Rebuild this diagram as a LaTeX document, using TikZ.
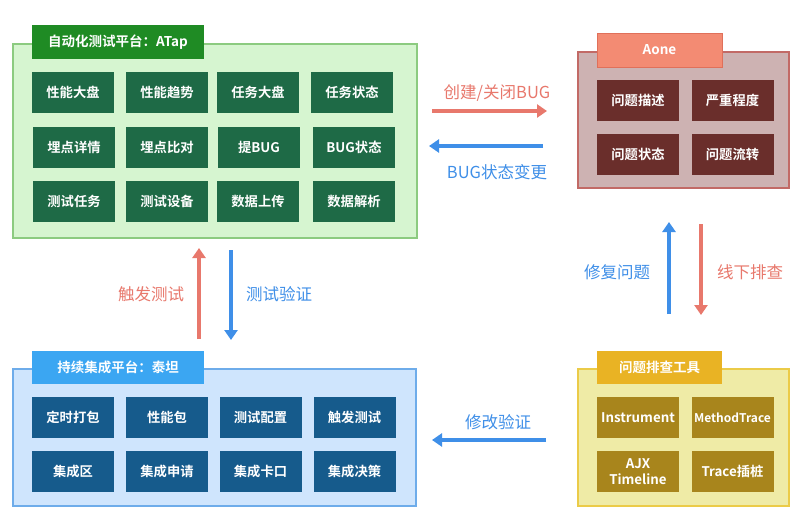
\documentclass[tikz,border=0pt]{standalone}
\usepackage{fontspec}
\setmainfont{Noto Sans CJK SC}
\newfontfamily\cjkb{Noto Sans CJK SC Bold}
\usetikzlibrary{arrows.meta}
\definecolor{gfill}{HTML}{D6F5D0}
\definecolor{gborder}{HTML}{8CCB80}
\definecolor{gtab}{HTML}{1F8B24}
\definecolor{ginner}{HTML}{1E6A46}
\definecolor{rfill}{HTML}{CDB2B2}
\definecolor{rborder}{HTML}{C26A66}
\definecolor{rtab}{HTML}{F38B73}
\definecolor{rtabb}{HTML}{E0705A}
\definecolor{rinner}{HTML}{6A2E2B}
\definecolor{yfill}{HTML}{EFEBA6}
\definecolor{yborder}{HTML}{EBCB48}
\definecolor{ytab}{HTML}{E9B324}
\definecolor{yinner}{HTML}{A8851C}
\definecolor{bfill}{HTML}{CFE5FD}
\definecolor{bborder}{HTML}{6EACEA}
\definecolor{btab}{HTML}{3BA6F2}
\definecolor{binner}{HTML}{165B8C}
\definecolor{redarrow}{HTML}{E8786C}
\definecolor{bluearrow}{HTML}{3F8FE8}
\tikzset{
  container/.style={draw, line width=1.2pt},
  tabbox/.style={inner sep=0pt, text=white, font=\cjkb\fontsize{13.5}{15}\selectfont},
  cell/.style={inner sep=0pt, minimum width=82pt, minimum height=41pt, text=white, align=center, font=\cjkb\fontsize{13.3}{16}\selectfont},
  flow/.style={line width=3.6pt, -{Triangle[length=10pt,width=13pt]}},
  lbl/.style={font=\fontsize{16.5}{18}\selectfont}
}
\begin{document}
\begin{tikzpicture}[x=1pt,y=-1pt]
\useasboundingbox[fill=white] (0,0) rectangle (805,525);

% containers
\draw[container, draw=gborder, fill=gfill] (13,44) rectangle (417,238);
\draw[container, draw=rborder, fill=rfill] (578,52) rectangle (789,188);
\draw[container, draw=yborder, fill=yfill] (578,369) rectangle (789,506);
\draw[container, draw=bborder, fill=bfill] (13,369) rectangle (416,506);

% tabs
\node[tabbox, fill=gtab, minimum width=172pt, minimum height=34pt] (tg) at (118,42) {自动化测试平台：ATap};
\node[tabbox, fill=rtab, draw=rtabb, line width=0.8pt, minimum width=125pt, minimum height=34pt] (tr) at (659.5,50) {Aone};
\node[tabbox, fill=ytab, minimum width=125pt, minimum height=33pt] (ty) at (659.5,367.5) {问题排查工具};
\node[tabbox, fill=btab, minimum width=172pt, minimum height=33pt] (tb) at (118,367.5) {持续集成平台：泰坦};

% green cells
\node[cell, fill=ginner] (g11) at (73,92.5) {性能大盘};
\node[cell, fill=ginner] (g12) at (167,92.5) {性能趋势};
\node[cell, fill=ginner] (g13) at (258,92.5) {任务大盘};
\node[cell, fill=ginner] (g14) at (352,92.5) {任务状态};
\node[cell, fill=ginner] (g21) at (74,147) {埋点详情};
\node[cell, fill=ginner] (g22) at (167,147) {埋点比对};
\node[cell, fill=ginner] (g23) at (259,147) {提BUG};
\node[cell, fill=ginner] (g24) at (354,147) {BUG状态};
\node[cell, fill=ginner] (g31) at (74,201.5) {测试任务};
\node[cell, fill=ginner] (g32) at (167,201.5) {测试设备};
\node[cell, fill=ginner] (g33) at (258,201.5) {数据上传};
\node[cell, fill=ginner] (g34) at (354,201.5) {数据解析};

% Aone cells
\node[cell, fill=rinner] (r11) at (638,100.5) {问题描述};
\node[cell, fill=rinner] (r12) at (732.5,100.5) {严重程度};
\node[cell, fill=rinner] (r21) at (638,154.5) {问题状态};
\node[cell, fill=rinner] (r22) at (732.5,154.5) {问题流转};

% tool cells
\node[cell, fill=yinner] (y11) at (638,417.5) {Instrument};
\node[cell, fill=yinner, font=\cjkb\fontsize{12}{14}\selectfont] (y12) at (732.5,417.5) {MethodTrace};
\node[cell, fill=yinner] (y21) at (638,471.5) {AJX\\Timeline};
\node[cell, fill=yinner] (y22) at (732.5,471.5) {Trace插桩};

% blue cells
\node[cell, fill=binner] (b11) at (73,417.5) {定时打包};
\node[cell, fill=binner] (b12) at (167,417.5) {性能包};
\node[cell, fill=binner] (b13) at (260.5,417.5) {测试配置};
\node[cell, fill=binner] (b14) at (354.5,417.5) {触发测试};
\node[cell, fill=binner] (b21) at (73,471.5) {集成区};
\node[cell, fill=binner] (b22) at (167,471.5) {集成申请};
\node[cell, fill=binner] (b23) at (260.5,471.5) {集成卡口};
\node[cell, fill=binner] (b24) at (354.5,471.5) {集成决策};

% arrow end points
\coordinate (a1s) at (432,111);  \coordinate (a1e) at (547,111);
\coordinate (a2s) at (543,146);  \coordinate (a2e) at (429,146);
\coordinate (a3s) at (669,314);  \coordinate (a3e) at (669,222);
\coordinate (a4s) at (701,224);  \coordinate (a4e) at (701,315);
\coordinate (a5s) at (546,440);  \coordinate (a5e) at (432,440);
\coordinate (a6s) at (199,339);  \coordinate (a6e) at (199,248);
\coordinate (a7s) at (231,250);  \coordinate (a7e) at (231,340);

\draw[flow, draw=redarrow] (a1s) -- (a1e);
\draw[flow, draw=bluearrow] (a2s) -- (a2e);
\draw[flow, draw=bluearrow] (a3s) -- (a3e);
\draw[flow, draw=redarrow] (a4s) -- (a4e);
\draw[flow, draw=bluearrow] (a5s) -- (a5e);
\draw[flow, draw=redarrow] (a6s) -- (a6e);
\draw[flow, draw=bluearrow] (a7s) -- (a7e);

% labels
\node[lbl, text=redarrow] (l1) at (497,93) {创建/关闭BUG};
\node[lbl, text=bluearrow] (l2) at (497,172) {BUG状态变更};
\node[lbl, text=bluearrow] (l3) at (617,272) {修复问题};
\node[lbl, text=redarrow] (l4) at (750,272) {线下排查};
\node[lbl, text=bluearrow] (l5) at (498,422) {修改验证};
\node[lbl, text=redarrow] (l6) at (151,294) {触发测试};
\node[lbl, text=bluearrow] (l7) at (279,294) {测试验证};
\end{tikzpicture}
\end{document}
